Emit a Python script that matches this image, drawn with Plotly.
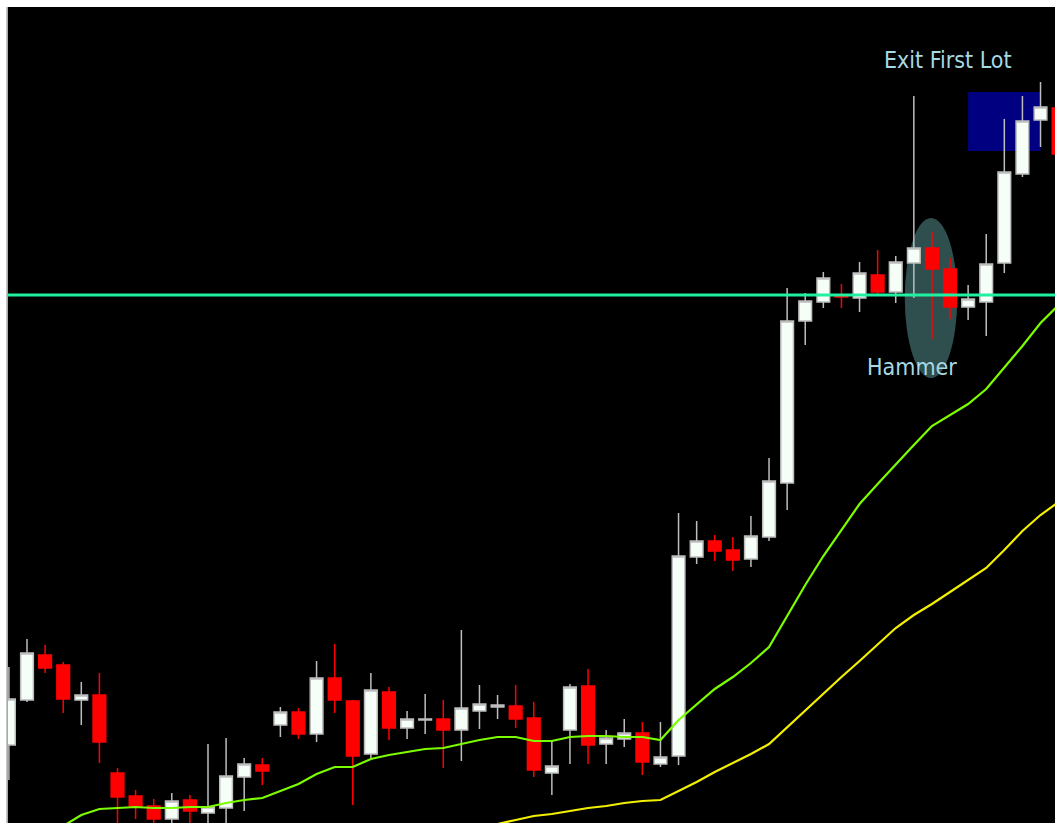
import plotly.graph_objects as go

# ---- data ----
idx = list(range(59))

opens = [1.2678, 1.2723, 1.2768, 1.2758, 1.2723, 1.2728, 1.2650, 1.2627, 1.2617, 1.2604,
         1.2623, 1.2610, 1.2615, 1.2646, 1.2658, 1.2698, 1.2711, 1.2689, 1.2745, 1.2722,
         1.2669, 1.2731, 1.2695, 1.2703, 1.2704, 1.2693, 1.2712, 1.2716, 1.2717, 1.2705,
         1.2650, 1.2693, 1.2737, 1.2679, 1.2684, 1.2690, 1.2659, 1.2667, 1.2866, 1.2882,
         1.2873, 1.2864, 1.2886, 1.2940, 1.3102, 1.3121, 1.3128, 1.3125, 1.3148, 1.3131,
         1.3160, 1.3175, 1.3154, 1.3116, 1.3121, 1.3160, 1.3249, 1.3303, 1.3315]

highs = [1.2756, 1.2784, 1.2778, 1.2761, 1.2741, 1.2750, 1.2655, 1.2633, 1.2624, 1.2630,
         1.2628, 1.2679, 1.2685, 1.2665, 1.2665, 1.2716, 1.2715, 1.2762, 1.2779, 1.2723,
         1.2750, 1.2736, 1.2712, 1.2729, 1.2723, 1.2793, 1.2738, 1.2728, 1.2738, 1.2721,
         1.2682, 1.2739, 1.2754, 1.2693, 1.2704, 1.2701, 1.2701, 1.2910, 1.2902, 1.2888,
         1.2886, 1.2907, 1.2965, 1.3135, 1.3130, 1.3151, 1.3139, 1.3161, 1.3173, 1.3167,
         1.3327, 1.3191, 1.3165, 1.3138, 1.3189, 1.3304, 1.3327, 1.3341, 1.3323]

lows = [1.2643, 1.2721, 1.2750, 1.2710, 1.2698, 1.2660, 1.2595, 1.2604, 1.2595, 1.2593,
        1.2595, 1.2593, 1.2597, 1.2612, 1.2638, 1.2686, 1.2684, 1.2681, 1.2710, 1.2618,
        1.2665, 1.2683, 1.2684, 1.2689, 1.2655, 1.2662, 1.2694, 1.2704, 1.2695, 1.2646,
        1.2628, 1.2659, 1.2659, 1.2659, 1.2676, 1.2648, 1.2656, 1.2658, 1.2859, 1.2862,
        1.2852, 1.2856, 1.2882, 1.2913, 1.3078, 1.3115, 1.3115, 1.3111, 1.3127, 1.3120,
        1.3125, 1.3084, 1.3104, 1.3103, 1.3087, 1.3150, 1.3246, 1.3276, 1.3263]

closes = [1.2724, 1.2770, 1.2755, 1.2724, 1.2728, 1.2681, 1.2626, 1.2617, 1.2604, 1.2622,
          1.2612, 1.2616, 1.2647, 1.2659, 1.2652, 1.2711, 1.2689, 1.2745, 1.2723, 1.2667,
          1.2733, 1.2695, 1.2704, 1.2704, 1.2693, 1.2715, 1.2719, 1.2718, 1.2704, 1.2653,
          1.2657, 1.2736, 1.2678, 1.2685, 1.2690, 1.2661, 1.2666, 1.2867, 1.2882, 1.2872,
          1.2863, 1.2887, 1.2942, 1.3102, 1.3122, 1.3145, 1.3126, 1.3150, 1.3131, 1.3161,
          1.3175, 1.3154, 1.3116, 1.3124, 1.3159, 1.3251, 1.3302, 1.3316, 1.3269]

ma_fast = [1.2553, 1.2571, 1.2585, 1.2597, 1.2608, 1.2614, 1.2615, 1.2616, 1.2615, 1.2615,
           1.2616, 1.2616, 1.2620, 1.2623, 1.2625, 1.2632, 1.2639, 1.2649, 1.2656, 1.2656,
           1.2664, 1.2668, 1.2671, 1.2674, 1.2675, 1.2679, 1.2683, 1.2686, 1.2686, 1.2682,
           1.2682, 1.2686, 1.2687, 1.2687, 1.2686, 1.2686, 1.2683, 1.2703, 1.2719, 1.2734,
           1.2746, 1.2760, 1.2776, 1.2807, 1.2838, 1.2867, 1.2893, 1.2919, 1.2939, 1.2959,
           1.2978, 1.2997, 1.3008, 1.3019, 1.3034, 1.3055, 1.3077, 1.3100, 1.3118]

ma_slow = [None] * 26 + [
           1.2594, 1.2599, 1.2603, 1.2607, 1.2609, 1.2612, 1.2615, 1.2617, 1.2620, 1.2622,
           1.2623, 1.2632, 1.2641, 1.2651, 1.2660, 1.2669, 1.2679, 1.2696, 1.2713, 1.2730,
           1.2746, 1.2762, 1.2779, 1.2795, 1.2808, 1.2819, 1.2831, 1.2843, 1.2855, 1.2873,
           1.2892, 1.2908, 1.2921]

level_price = 1.3128
exit_zone = dict(x0=53, x1=57, y0=1.3272, y1=1.3331)
hammer_zone = dict(x0=49.5, x1=52.4, y0=1.3045, y1=1.3205)
labels = [("Exit First Lot", 51.9, 1.3363), ("Hammer", 49.9, 1.3056)]

x_range = [-0.05, 57.8]
y_range = [1.2600, 1.3416]

TEXT_COLOR = "#A6D9E3"
FONT = "DejaVu Sans Condensed, DejaVu Sans, sans-serif"

fig = go.Figure()

fig.add_trace(go.Scatter(x=idx, y=ma_slow, mode="lines",
                         line=dict(color="#F2F000", width=2.2), hoverinfo="skip",
                         showlegend=False))
fig.add_trace(go.Scatter(x=idx, y=ma_fast, mode="lines",
                         line=dict(color="#7CFC00", width=2.2), hoverinfo="skip",
                         showlegend=False))

fig.add_trace(go.Candlestick(
    x=idx, open=opens, high=highs, low=lows, close=closes,
    increasing=dict(line=dict(color="#BDBDBD", width=1.5), fillcolor="#F5FFF8"),
    decreasing=dict(line=dict(color="#FF0000", width=1.5), fillcolor="#FF0000"),
    whiskerwidth=0, showlegend=False))

shapes = [
    dict(type="circle", xref="x", yref="y", layer="below",
         fillcolor="#2F4F4F", line=dict(width=0), **hammer_zone),
    dict(type="rect", xref="x", yref="y", layer="below",
         fillcolor="#000080", line=dict(width=0), **exit_zone),
    dict(type="line", xref="paper", yref="y", x0=0, x1=1,
         y0=level_price, y1=level_price, layer="above",
         line=dict(color="#20F0A0", width=3)),
    dict(type="line", xref="paper", yref="paper", x0=-0.0008, x1=-0.0008,
         y0=0, y1=1, layer="above", line=dict(color="#A0A0A0", width=1.5)),
]

annotations = [
    dict(text=t, x=x, y=y, xref="x", yref="y", showarrow=False,
         xanchor="center", yanchor="middle",
         font=dict(family=FONT, size=23, color=TEXT_COLOR))
    for t, x, y in labels
]

fig.update_layout(
    width=1055, height=823,
    margin=dict(l=8, r=0, t=7, b=0),
    paper_bgcolor="white", plot_bgcolor="black",
    boxgap=0.3, boxgroupgap=0,
    shapes=shapes, annotations=annotations,
    showlegend=False,
    xaxis=dict(range=x_range, visible=False, rangeslider=dict(visible=False),
               showgrid=False, zeroline=False),
    yaxis=dict(range=y_range, visible=False, showgrid=False, zeroline=False),
)

fig.write_html("out.html", config={"displayModeBar": False},
               post_script="document.body.style.margin='0';")
